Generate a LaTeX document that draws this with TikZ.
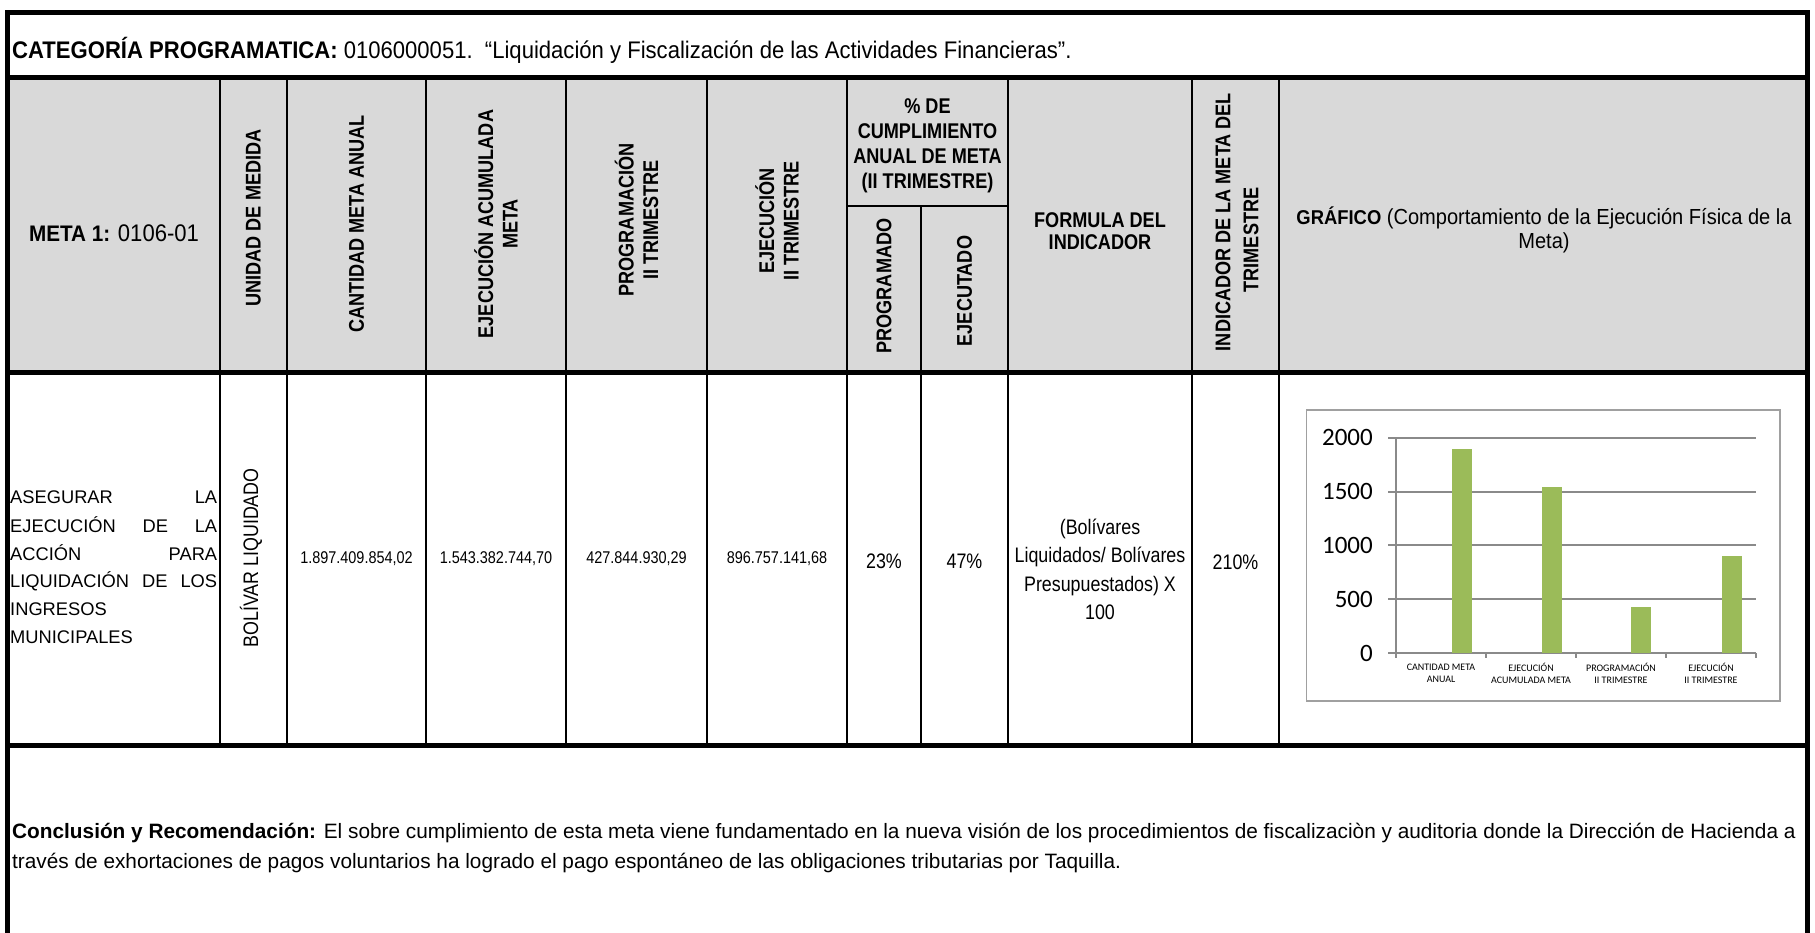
\documentclass[tikz,border=0pt]{standalone}
\usepackage{fontspec}
\setmainfont{Liberation Sans}
\newfontfamily\nar{Liberation Sans}[FakeStretch=0.85]
\newfontfamily\narB{Liberation Sans}[FakeStretch=0.92]
\newfontfamily\calib{Carlito}
\definecolor{hdr}{HTML}{D9D9D9}
\definecolor{barc}{HTML}{9BBB59}
\definecolor{gridc}{HTML}{8A8A8A}
\definecolor{boxc}{HTML}{A0A0A0}
\begin{document}
\begin{tikzpicture}[x=1pt,y=-1pt,
  thinline/.style={line width=2.2pt},
  thickline/.style={line width=5pt},
  hb/.style={font=\nar\bfseries\fontsize{21.3}{24.5}\selectfont, inner sep=0pt, align=center},
  dt/.style={font=\fontsize{18.3}{22}\selectfont, inner sep=0pt},
  num/.style={font=\nar\fontsize{17}{20}\selectfont, inner sep=0pt},
  pc/.style={font=\nar\fontsize{21}{28.5}\selectfont, inner sep=0pt, align=center},
  ylab/.style={font=\calib\fontsize{25}{27}\selectfont, inner sep=0pt, anchor=east},
  clab/.style={font=\calib\fontsize{10}{12}\selectfont, inner sep=0pt, align=center},
  ctxt/.style={font=\fontsize{20.8}{24}\selectfont, inner sep=0pt, anchor=west}]
\useasboundingbox (0,0) rectangle (1815,932);
% header fill
\fill[hdr] (7.5,77.5) rectangle (1807,372);
% thin column lines
\foreach \x in {220,287,426,566,707,847,1008,1192,1279}
  \draw[thinline] (\x,77.5) -- (\x,745);
\draw[thinline] (921,206) -- (921,745);
\draw[thinline] (847,206) -- (1008,206);
% thick lines
\draw[thickline] (7.5,77.5) -- (1807,77.5);
\draw[thickline] (7.5,372) -- (1807,372);
\draw[thickline] (7.5,745) -- (1807,745);
\draw[thickline] (7.5,950) -- (7.5,12.5) -- (1807,12.5) -- (1807,950);

% row 1
\node[anchor=west, font=\narB\fontsize{24}{28}\selectfont, inner sep=0pt] (cat) at (12,50)
  {\textbf{CATEGORÍA PROGRAMATICA:} 0106000051.~~“Liquidación y Fiscalización de las Actividades Financieras”.};

% header
\node[hb,font=\narB\bfseries\fontsize{22.5}{26}\selectfont] (meta) at (114,233) {META 1: {\mdseries\fontsize{24}{26}\selectfont 0106-01}};
\node[hb,rotate=90] (um) at (253.5,218) {UNIDAD DE MEDIDA};
\node[hb,rotate=90] (cma) at (356.5,224) {CANTIDAD META ANUAL};
\node[hb,rotate=90] (eam) at (496,224) {EJECUCIÓN ACUMULADA\\META};
\node[hb,rotate=90] (pit) at (636.5,220) {PROGRAMACIÓN\\II TRIMESTRE};
\node[hb,rotate=90] (eit) at (777,221) {EJECUCIÓN\\II TRIMESTRE};
\node[hb,font=\nar\bfseries\fontsize{21.3}{25}\selectfont] (pct) at (927.5,146) {\% DE\\CUMPLIMIENTO\\ANUAL DE META\\(II TRIMESTRE)};
\node[hb,rotate=90] (prg) at (884,286) {PROGRAMADO};
\node[hb,rotate=90] (ejt) at (964.5,291) {EJECUTADO};
\node[hb,font=\nar\bfseries\fontsize{21.3}{22}\selectfont] (fi) at (1100,231) {FORMULA DEL\\INDICADOR};
\node[hb,rotate=90] (imt1) at (1223,222) {INDICADOR DE LA META DEL};
\node[hb,rotate=90] (imt2) at (1251,240) {TRIMESTRE};
\node[inner sep=0pt, align=center, font=\narB\fontsize{21.8}{24}\selectfont] (gr) at (1544,230)
  {{\bfseries\fontsize{20}{24}\selectfont GRÁFICO} (Comportamiento de la Ejecución Física de la\\Meta)};

% data row
\node[dt,anchor=west] (d1) at (10,497) {\makebox[207pt][s]{ASEGURAR LA}};
\node[dt,anchor=west] (d2) at (10,525) {\makebox[207pt][s]{EJECUCIÓN DE LA}};
\node[dt,anchor=west] (d3) at (10,553) {\makebox[207pt][s]{ACCIÓN PARA}};
\node[dt,anchor=west] (d4) at (10,581) {\makebox[207pt][s]{LIQUIDACIÓN DE LOS}};
\node[dt,anchor=west] (d5) at (10,609) {INGRESOS};
\node[dt,anchor=west] (d6) at (10,637) {MUNICIPALES};
\node[rotate=90,inner sep=0pt,font=\nar\fontsize{21}{24}\selectfont] (bl) at (251,558) {BOLÍVAR LIQUIDADO};
\node[num] (n1) at (356.5,559) {1.897.409.854,02};
\node[num] (n2) at (496,559) {1.543.382.744,70};
\node[num] (n3) at (636.5,559) {427.844.930,29};
\node[num] (n4) at (777,559) {896.757.141,68};
\node[pc] (p1) at (884,561) {23\%};
\node[pc] (p2) at (964.5,561) {47\%};
\node[pc] (frm) at (1100,569.5) {(Bolívares\\Liquidados/ Bolívares\\Presupuestados) X\\100};
\node[pc] (p3) at (1235.5,562) {210\%};

% chart
\draw[boxc, line width=1.6pt] (1306.5,410) rectangle (1780,701);
\foreach \v in {500,1000,1500,2000} {
  \pgfmathsetmacro\yy{653-\v*0.10765}
  \draw[gridc, line width=2pt] (1388,\yy) -- (1756,\yy);
}
\draw[gridc, line width=2pt] (1396,437.7) -- (1396,653);
\draw[gridc, line width=2pt] (1388,653) -- (1756,653);
\foreach \x in {1396,1486,1576,1666,1756}
  \draw[gridc, line width=1.2pt] (\x,653) -- (\x,658);
\fill[barc] (1452,653) rectangle (1472,{653-1897.41*0.10765});
\fill[barc] (1541.6,653) rectangle (1561.6,{653-1543.38*0.10765});
\fill[barc] (1631,653) rectangle (1651,{653-427.84*0.10765});
\fill[barc] (1721.5,653) rectangle (1741.5,{653-896.76*0.10765});
\node[ylab] (y0) at (1373,653) {0};
\node[ylab] (y1) at (1373,599.2) {500};
\node[ylab] (y2) at (1373,545.3) {1000};
\node[ylab] (y3) at (1373,491.5) {1500};
\node[ylab] (y4) at (1373,437.7) {2000};
\node[clab] (c1) at (1441,673) {CANTIDAD META\\ANUAL};
\node[clab] (c2) at (1531,673) {EJECUCIÓN\\ACUMULADA META};
\node[clab] (c3) at (1621,673) {PROGRAMACIÓN\\II TRIMESTRE};
\node[clab] (c4) at (1711,673) {EJECUCIÓN\\II TRIMESTRE};

% conclusion
\node[ctxt] (k1) at (12,833) {\textbf{Conclusión y Recomendación:} El sobre cumplimiento de esta meta viene fundamentado en la nueva visión de los procedimientos de fiscalizaciòn y auditoria donde la Dirección de Hacienda a};
\node[ctxt] (k2) at (12,863) {través de exhortaciones de pagos voluntarios ha logrado el pago espontáneo de las obligaciones tributarias por Taquilla.};
\end{tikzpicture}
\end{document}
